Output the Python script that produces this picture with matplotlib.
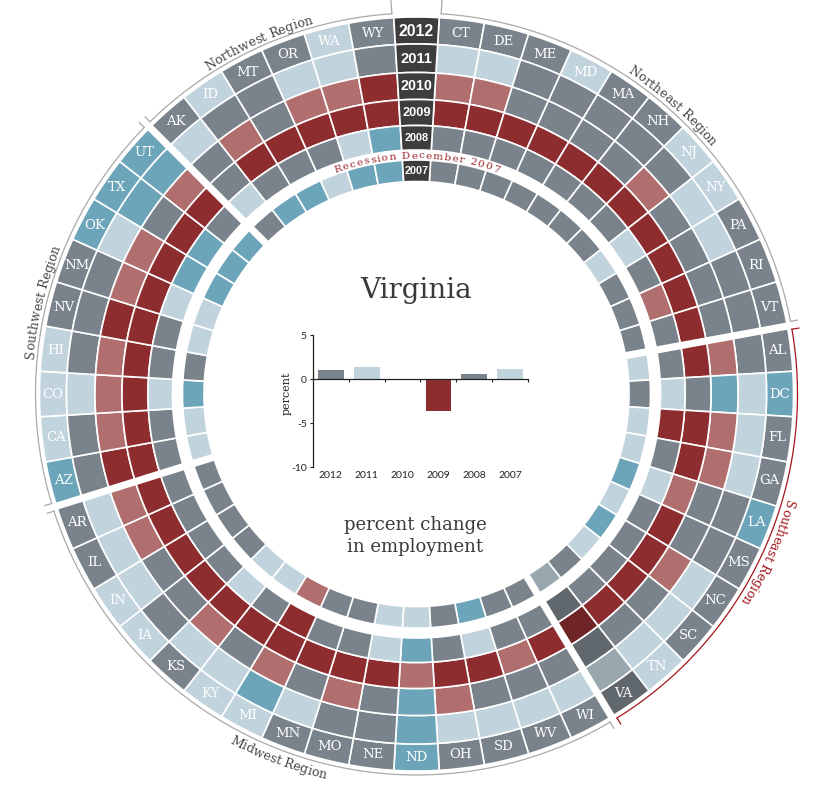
import numpy as np
import matplotlib
matplotlib.use("Agg")
import matplotlib.pyplot as plt
from matplotlib.patches import Wedge
from matplotlib.font_manager import FontProperties, findfont, get_font

# ---------------- data ----------------
states = ["CT", "DE", "ME", "MD", "MA", "NH", "NJ", "NY", "PA", "RI", "VT",
          "AL", "DC", "FL", "GA", "LA", "MS", "NC", "SC", "TN", "VA",
          "WI", "WV", "SD", "OH", "ND", "NE", "MO", "MN", "MI", "KY", "KS", "IA", "IN", "IL", "AR",
          "AZ", "CA", "CO", "HI", "NV", "NM", "OK", "TX", "UT",
          "AK", "ID", "MT", "OR", "WA", "WY"]
region_names = ["Northeast Region", "Southeast Region", "Midwest Region",
                "Southwest Region", "Northwest Region"]
region_sizes = [11, 10, 15, 9, 6]
highlight_region = "Southeast Region"
highlight_state = "VA"
years = ["2012", "2011", "2010", "2009", "2008", "2007"]

# category per state: T = strong growth, L = growth, G = flat, P = decline, R = strong decline
cat_2012 = list("GGGLGGLLGGG" "GTGGTGGGLG" "GGGGTGGGLLGLLGG" "TLLLGGTTT" "GLGGLG")
cat_2011 = list("LLGGGGGLLGG" "GLLLGGLLLL" "LLLLTGGLTLLGLLL" "GGLGGGLTT" "LGGLLG")
cat_2010 = list("PPGGGGPGGGG" "PTPPGGPGGG" "GGGPTGPGPGPGGPP" "RPPPRPPGP" "GPGPPR")
cat_2009 = list("RRRRRRRRRRR" "RGRRPRRRRR" "RPRRPRRRRRRRRRR" "RRRRRRRRR" "GRRRRR")
cat_2008 = list("GGGGGGGLGPG" "GLRGLGGGGG" "GGLGTLGGRGLGGGG" "GGLGGLTTG" "LGGGLT")
cat_2007 = list("GGGGGGGLGGG" "LGLLTLTLGL" "GGTGLLGGPLLGGGG" "LLTGLLTTT" "GTTLTT")
year_cats = [cat_2012, cat_2011, cat_2010, cat_2009, cat_2008, cat_2007]

va_values = [1.0, 1.35, -0.15, -3.65, 0.6, 1.15]
va_bar_cat = ["G", "L", "P", "R", "G", "L"]

# ---------------- style ----------------
PAL = {"T": "#6ca5b9", "L": "#c1d4de", "G": "#7a838b", "P": "#b16e6e", "R": "#8e2d30"}
PAL_HI = {"T": "#4f8193", "L": "#98a8ae", "G": "#60676d", "P": "#8c5050", "R": "#6f2525"}
COL_YEAR = "#3d3d3d"
TXT = "#3a3a3a"
RED = "#a3161b"

W, H = 828, 786
CX, CY = 416.5, H - 394.0
ring_r = [(350.0, 377.0), (321.5, 350.0), (294.5, 321.5), (268.5, 294.5), (244.0, 268.5), (212.5, 234.0)]
year_fs = [11.3, 10.6, 10.3, 9.2, 7.8, 7.8]
NSLOT = len(states) + 1
step = 360.0 / NSLOT

fig = plt.figure(figsize=(W / 100, H / 100), dpi=100)
ax = fig.add_axes([0, 0, 1, 1])
ax.set_xlim(0, W)
ax.set_ylim(0, H)
ax.axis("off")


def slot_angle(k):
    return 90.0 - k * step


def pol(r, ang):
    a = np.deg2rad(ang)
    return CX + r * np.cos(a), CY + r * np.sin(a)


# ---------------- rings ----------------
for yi, (yr, cats) in enumerate(zip(years, year_cats)):
    r0, r1 = ring_r[yi]
    for i, st in enumerate(states):
        c = slot_angle(i + 1)
        pal = PAL_HI if st == highlight_state else PAL
        ax.add_patch(Wedge((CX, CY), r1, c - step / 2, c + step / 2, width=r1 - r0,
                           facecolor=pal[cats[i]], edgecolor="white", linewidth=1.2))
    ax.add_patch(Wedge((CX, CY), r1, 90 - step / 2, 90 + step / 2, width=r1 - r0,
                       facecolor=COL_YEAR, edgecolor="white", linewidth=1.2))
    ax.text(CX, CY + (r0 + r1) / 2 - 0.5, yr, color="white", fontsize=year_fs[yi],
            fontfamily="Liberation Sans", fontweight="bold", ha="center", va="center")

# state labels in the outer ring
r0, r1 = ring_r[0]
for i, st in enumerate(states):
    x, y = pol((r0 + r1) / 2, slot_angle(i + 1))
    ax.text(x, y, st, color="white", fontsize=9.5, fontfamily="DejaVu Serif",
            ha="center", va="center")

# region separators
bounds = np.cumsum(region_sizes)[:-1]
for b in bounds:
    ang = slot_angle(b + 0.5)
    xa, ya = pol(205, ang)
    xb, yb = pol(379, ang)
    ax.plot([xa, xb], [ya, yb], color="white", lw=5.2, solid_capstyle="butt", zorder=3)


# ---------------- curved text ----------------
def char_advances(text, fp):
    try:
        font = get_font(findfont(fp))
        font.set_size(fp.get_size_in_points(), 100)
        out = []
        for ch in text:
            g = font.load_char(ord(ch))
            out.append(g.linearHoriAdvance / 65536.0)
        return out
    except Exception:
        return [0.6 * fp.get_size_in_points() * 100 / 72] * len(text)


def arc_text(text, theta_c, rb, size, color, family="DejaVu Serif", clockwise=True,
             spacing=0.0, style="normal"):
    fp = FontProperties(family=family, size=size, style=style)
    adv = char_advances(text, fp)
    total = sum(adv) + spacing * (len(text) - 1)
    pos = -total / 2
    for ch, a in zip(text, adv):
        s = pos + a / 2
        pos += a + spacing
        if ch == " ":
            continue
        if clockwise:
            ang = theta_c - np.rad2deg(s / rb)
            rot = ang - 90
        else:
            ang = theta_c + np.rad2deg(s / rb)
            rot = ang + 90
        x, y = pol(rb, ang)
        ax.text(x, y, ch, fontproperties=fp, color=color, rotation=rot,
                rotation_mode="anchor", ha="center", va="baseline", zorder=5)


# region arcs + labels
R_ARC = 381.0
start = 1
for name, n in zip(region_names, region_sizes):
    a_lead = slot_angle(start - 0.5)
    a_trail = slot_angle(start + n - 0.5)
    in_lead = 0.25 if start == 1 else 0.6
    in_trail = 0.25 if start + n == NSLOT else 0.6
    col = RED if name == highlight_region else "#aaaaaa"
    th = np.deg2rad(np.linspace(a_trail + in_trail, a_lead - in_lead, 200))
    ax.plot(CX + R_ARC * np.cos(th), CY + R_ARC * np.sin(th), color=col, lw=0.9)
    for a_end, inset in ((a_lead - in_lead, in_lead), (a_trail + in_trail, in_trail)):
        tl = 16 if inset < 0.5 else 7
        xa, ya = pol(R_ARC, a_end)
        xb, yb = pol(R_ARC + tl, a_end)
        ax.plot([xa, xb], [ya, yb], color=col, lw=0.9)
    mid = (a_lead + a_trail) / 2
    tcol = RED if name == highlight_region else "#454545"
    if name == "Midwest Region":
        arc_text(name, mid, 395.5, 9.0, tcol, clockwise=False)
    else:
        arc_text(name, mid, 384.5, 9.0, tcol, clockwise=True)
    start += n

# recession marker
arc_text("Recession December 2007", 90.0, 235.5, 7.5, "#9b2328", spacing=1.2)

# ---------------- centre ----------------
ax.text(416, H - 290, "Virginia", fontsize=20, fontfamily="DejaVu Serif", color=TXT,
        ha="center", va="center")
ax.text(415, H - 536, "percent change\nin employment", fontsize=13, fontfamily="DejaVu Serif",
        color=TXT, ha="center", va="center", linespacing=1.3)

bx = fig.add_axes([312.7 / W, (H - 467.3) / H, 215.6 / W, 132.3 / H])
bx.patch.set_alpha(0)
bx.bar(range(len(years)), va_values, width=0.72, color=[PAL[c] for c in va_bar_cat])
bx.set_xlim(-0.5, len(years) - 0.5)
bx.set_ylim(-10, 5)
for sp in ("top", "right"):
    bx.spines[sp].set_visible(False)
bx.spines["bottom"].set_position(("data", 0))
for sp in ("left", "bottom"):
    bx.spines[sp].set_color("#222222")
    bx.spines[sp].set_linewidth(0.9)
bx.set_xticks(np.arange(len(years)) + 0.5)
bx.set_xticklabels([])
bx.tick_params(axis="x", direction="out", length=2.5, width=0.8, color="#222222")
bx.set_yticks([5, 0, -5, -10])
bx.set_yticklabels(["5", "0", "-5", "-10"])
bx.tick_params(axis="y", direction="out", length=2.2, width=0.8, color="#222222",
               labelsize=7.5, labelcolor="#222222", pad=2)
for lab in bx.get_yticklabels():
    lab.set_fontfamily("Lato")
for i, yr in enumerate(years):
    bx.text(i, -0.025, yr, transform=bx.get_xaxis_transform(), ha="center", va="top",
            fontsize=7.5, fontfamily="Lato", color="#222222")
bx.text(-0.119, 0.56, "percent", transform=bx.transAxes, rotation=90, ha="center",
        va="center", fontsize=8, fontfamily="DejaVu Serif", color="#222222")

fig.savefig("out.png", dpi=100)
